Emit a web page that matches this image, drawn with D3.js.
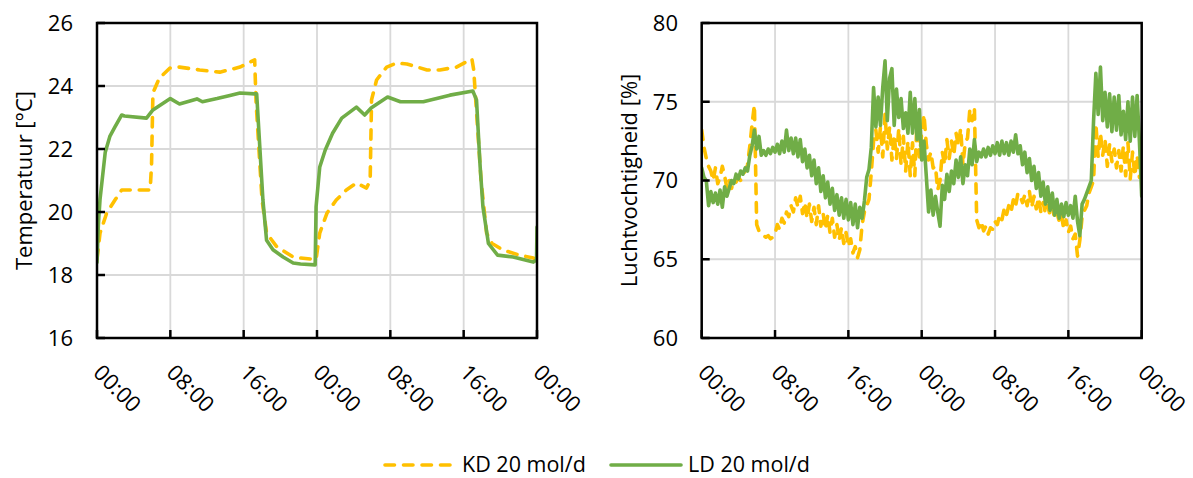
<!DOCTYPE html>
<html><head><meta charset="utf-8">
<script src="https://cdn.jsdelivr.net/npm/d3@7"></script>
<style>body{margin:0;background:#fff} text{font-family:'Open Sans',sans-serif;fill:#000}</style>
</head><body><svg id="c" width="1193" height="478"></svg>
<script>
const timeTicks = [0, 8, 16, 24, 32, 40, 48];
const timeTickLabels = ["00:00", "08:00", "16:00", "00:00", "08:00", "16:00", "00:00"];
const tempTicks = [16, 18, 20, 22, 24, 26];
const rhTicks = [60, 65, 70, 75, 80];
const seriesNames = ["KD 20 mol/d", "LD 20 mol/d"];

// Temperature, KD (hours, °C)
const tempKD_h = [0, 0.33, 1.06, 1.96, 2.7, 5.8, 5.95, 6.1, 6.8, 7.96, 9.0, 11.2, 13.4, 15.6, 17.2, 17.35, 18.0, 18.5, 19.6, 21.4, 22.2, 23.6, 23.9, 24.3, 25.1, 26.1, 27.2, 28.3, 29.4, 29.8, 29.95, 30.5, 31.6, 32.7, 33.8, 36.0, 37.4, 39.2, 40.9, 41.1, 41.9, 42.5, 43.1, 44.3, 46.1, 47.6, 48];
const tempKD   = [18.5, 19.33, 19.97, 20.38, 20.7, 20.7, 21.5, 23.78, 24.25, 24.57, 24.6, 24.51, 24.44, 24.6, 24.83, 23.5, 20.4, 19.33, 18.9, 18.57, 18.54, 18.5, 18.5, 19.33, 19.97, 20.38, 20.7, 20.92, 20.76, 21.0, 23.56, 24.19, 24.6, 24.73, 24.7, 24.51, 24.51, 24.6, 24.86, 24.5, 21.0, 19.33, 19.0, 18.79, 18.63, 18.54, 18.45];

// Temperature, LD (hours, °C)
const tempLD_h = [0, 0.15, 0.33, 0.9, 1.4, 1.96, 2.7, 3.0, 5.4, 6.1, 8.0, 9.0, 10.9, 11.5, 13.1, 14.5, 15.6, 17.2, 17.42, 18.1, 18.5, 19.2, 20.3, 21.4, 22.2, 23.8, 23.9, 24.3, 24.9, 25.7, 26.7, 28.3, 29.2, 29.9, 31.7, 33.1, 35.6, 38.5, 41.0, 41.4, 41.8, 42.1, 42.7, 43.7, 45.4, 47.6, 47.95, 48];
const tempLD   = [18.4, 19.6, 20.4, 21.9, 22.4, 22.7, 23.08, 23.05, 22.98, 23.24, 23.6, 23.43, 23.59, 23.5, 23.6, 23.7, 23.78, 23.75, 23.75, 20.38, 19.1, 18.8, 18.57, 18.38, 18.35, 18.32, 20.17, 21.43, 21.97, 22.5, 22.98, 23.33, 23.08, 23.3, 23.65, 23.5, 23.5, 23.71, 23.84, 23.56, 21.43, 20.17, 19.0, 18.63, 18.57, 18.41, 18.48, 19.52];

// Relative humidity, sampled every quarter hour (rows of 2 hours)
const rhHours = d3.range(0, 48.001, 0.25);
const rhKD = [
  73.2, 72.1, 71.4, 70.9, 70.6, 70.0, 70.8, 69.8,
  70.2, 70.9, 70.3, 69.5, 70.0, 69.5, 70.0, 69.9,
  70.2, 70.0, 70.4, 70.6, 71.0, 72.2, 73.6, 74.8,
  67.2, 66.8, 66.6, 66.5, 66.4, 66.5, 66.3, 66.4,
  66.6, 67.2, 66.9, 67.6, 67.3, 68.0, 67.7, 68.4,
  68.0, 68.9, 68.3, 69.0, 67.9, 68.6, 67.6, 68.5,
  67.4, 68.3, 67.2, 68.4, 67.1, 67.9, 66.9, 67.8,
  66.7, 67.6, 66.4, 67.2, 66.2, 67.0, 66.0, 66.7,
  65.8, 66.3, 65.4, 65.8, 65.1, 65.6, 67.2, 68.0,
  68.4, 68.8, 70.5, 72.5, 73.2, 71.8, 73.4, 71.5,
  74.2, 72.0, 73.4, 71.3, 72.9, 71.4, 73.3, 71.0,
  72.8, 70.6, 72.5, 70.3, 72.4, 70.3, 74.0, 71.5,
  73.0, 74.2, 72.3, 71.3, 71.8, 70.8, 70.9, 69.4,
  70.0, 71.8, 71.0, 72.6, 71.4, 72.5, 71.6, 73.0,
  72.2, 73.3, 71.0, 72.4, 72.7, 74.5, 73.8, 74.6,
  67.5, 67.0, 67.4, 66.8, 67.1, 66.6, 67.0, 66.9,
  67.4, 67.2, 67.8, 67.5, 68.2, 67.8, 68.4, 68.0,
  68.8, 68.4, 69.2, 69.0, 68.6, 69.1, 68.4, 69.3,
  68.3, 69.0, 68.2, 68.9, 68.0, 68.6, 67.9, 68.4,
  67.8, 68.3, 67.6, 68.0, 67.4, 67.8, 66.9, 67.5,
  66.7, 67.1, 66.3, 66.6, 65.2, 66.2, 67.7, 68.1,
  68.4, 69.2, 69.6, 70.0, 73.6, 71.5, 73.0, 71.6,
  72.6, 70.9, 72.3, 71.2, 72.0, 70.8, 71.9, 70.6,
  72.2, 70.3, 72.4, 70.1, 71.8, 70.3, 71.6, 70.2,
  70.4
];
const rhLD = [
  70.8, 70.2, 70.0, 68.4, 69.3, 68.6, 69.2, 68.5,
  69.4, 68.3, 69.6, 69.0, 69.5, 70.0, 69.8, 70.4,
  70.1, 70.6, 70.4, 70.8, 70.6, 71.6, 72.2, 73.2,
  72.0, 72.8, 71.6, 71.9, 71.6, 72.0, 71.7, 72.1,
  71.8, 72.3, 71.7, 72.5, 71.8, 73.2, 71.9, 72.7,
  71.7, 72.7, 71.5, 72.6, 71.2, 72.0, 70.8, 71.6,
  70.3, 71.3, 69.8, 70.8, 69.3, 70.3, 68.9, 69.9,
  68.5, 69.5, 68.1, 69.1, 67.8, 68.9, 67.6, 68.8,
  67.5, 68.6, 67.2, 68.5, 67.0, 68.3, 67.6, 68.7,
  70.2, 70.7, 72.1, 75.9, 73.4, 75.3, 73.5, 75.9,
  77.6, 73.8, 76.5, 77.1, 73.5, 75.8, 74.0, 75.2,
  73.3, 74.3, 73.0, 75.6, 73.0, 75.2, 72.6, 74.5,
  71.3, 72.5, 70.3, 68.0, 69.4, 67.8, 69.0, 68.0,
  67.1, 69.7, 68.8, 70.4, 69.3, 70.6, 69.8, 71.3,
  70.2, 71.5, 69.8, 71.0, 70.3, 72.0, 71.0, 72.6,
  71.2, 71.8, 71.5, 72.0, 71.5, 72.1, 71.6, 72.2,
  71.7, 72.4, 71.6, 72.5, 71.7, 72.4, 71.6, 72.5,
  71.8, 72.9, 71.7, 72.2, 71.0, 71.8, 70.5, 71.4,
  70.0, 70.9, 69.5, 70.5, 69.0, 69.9, 68.5, 69.6,
  68.1, 69.2, 67.8, 68.8, 67.6, 68.5, 67.7, 68.6,
  67.8, 68.4, 67.6, 69.0, 67.4, 66.5, 68.5, 68.8,
  69.2, 69.6, 70.0, 73.8, 76.8, 74.2, 77.2, 73.8,
  75.6, 73.4, 75.5, 73.1, 75.3, 73.2, 75.4, 72.9,
  74.4, 72.6, 75.0, 72.5, 75.3, 72.8, 75.4, 72.5,
  69.0
];

const colors = ["#FFC000", "#70AD47"];
const dash = "9.5,9";
const svg = d3.select("#c");

function panel(opts) {
  const {x0, x1, y0, y1, yDomain, yTicks, title, titleX, labelX, series, id} = opts;
  const x = d3.scaleLinear().domain([0, 48]).range([x0, x1]);
  const y = d3.scaleLinear().domain(yDomain).range([y1, y0]);
  const g = svg.append("g");
  g.append("g").selectAll("line").data(yTicks).join("line")
    .attr("x1", x0).attr("x2", x1).attr("y1", d => y(d)).attr("y2", d => y(d))
    .attr("stroke", "#d9d9d9").attr("stroke-width", 1.8);
  g.append("g").selectAll("line").data(timeTicks).join("line")
    .attr("x1", d => x(d)).attr("x2", d => x(d)).attr("y1", y0).attr("y2", y1)
    .attr("stroke", "#d9d9d9").attr("stroke-width", 1.8);
  svg.append("clipPath").attr("id", id).append("rect")
    .attr("x", x0).attr("y", y0).attr("width", x1 - x0).attr("height", y1 - y0);
  const line = d3.line().x(d => x(d[0])).y(d => y(d[1]));
  series.forEach((s, i) => {
    g.append("path").datum(s.h.map((h, k) => [h, s.v[k]]))
      .attr("clip-path", `url(#${id})`)
      .attr("d", line).attr("fill", "none")
      .attr("stroke", colors[i]).attr("stroke-width", 3.6)
      .attr("stroke-linejoin", "round").attr("stroke-linecap", "round")
      .attr("stroke-dasharray", i === 0 ? dash : null);
  });
  g.append("rect").attr("x", x0).attr("y", y0).attr("width", x1 - x0).attr("height", y1 - y0)
    .attr("fill", "none").attr("stroke", "#000").attr("stroke-width", 2.5);
  g.append("g").selectAll("line").data(yTicks).join("line")
    .attr("x1", x0).attr("x2", x0 + 8).attr("y1", d => y(d)).attr("y2", d => y(d))
    .attr("stroke", "#000").attr("stroke-width", 2.5);
  g.append("g").selectAll("line").data(timeTicks).join("line")
    .attr("x1", d => x(d)).attr("x2", d => x(d)).attr("y1", y1).attr("y2", y1 - 8)
    .attr("stroke", "#000").attr("stroke-width", 2.5);
  g.append("g").selectAll("text").data(yTicks).join("text")
    .attr("x", labelX).attr("y", d => y(d)).attr("dy", "0.36em")
    .attr("text-anchor", "end").attr("font-size", 22).text(d => d);
  g.append("g").selectAll("text").data(timeTicks).join("text")
    .attr("transform", d => `translate(${x(d) - 5},${y1 + 36}) rotate(45)`)
    .attr("text-anchor", "start").attr("font-size", 22)
    .text((d, i) => timeTickLabels[i]);
  g.append("text").attr("transform", `translate(${titleX},${(y0 + y1) / 2}) rotate(-90)`)
    .attr("text-anchor", "middle").attr("dy", "0.35em").attr("font-size", 22).text(title);
}

panel({x0: 97, x1: 537, y0: 23, y1: 338, yDomain: [16, 26], yTicks: tempTicks,
  title: "Temperatuur [°C]", titleX: 24, labelX: 73, id: "clipT",
  series: [{h: tempKD_h, v: tempKD}, {h: tempLD_h, v: tempLD}]});
panel({x0: 701.7, x1: 1141.7, y0: 23, y1: 338, yDomain: [60, 80], yTicks: rhTicks,
  title: "Luchtvochtigheid [%]", titleX: 629, labelX: 678, id: "clipR",
  series: [{h: rhHours, v: rhKD}, {h: rhHours, v: rhLD}]});

const leg = svg.append("g");
const legItems = [{x1: 385, x2: 451, tx: 462}, {x1: 611, x2: 681, tx: 688}];
legItems.forEach((it, i) => {
  leg.append("line").attr("x1", it.x1).attr("x2", it.x2).attr("y1", 465).attr("y2", 465)
    .attr("stroke", colors[i]).attr("stroke-width", 3.6).attr("stroke-linecap", "round")
    .attr("stroke-dasharray", i === 0 ? dash : null);
  leg.append("text").attr("x", it.tx).attr("y", 464).attr("dy", "0.35em")
    .attr("font-size", 21.5).text(seriesNames[i]);
});
</script></body></html>
